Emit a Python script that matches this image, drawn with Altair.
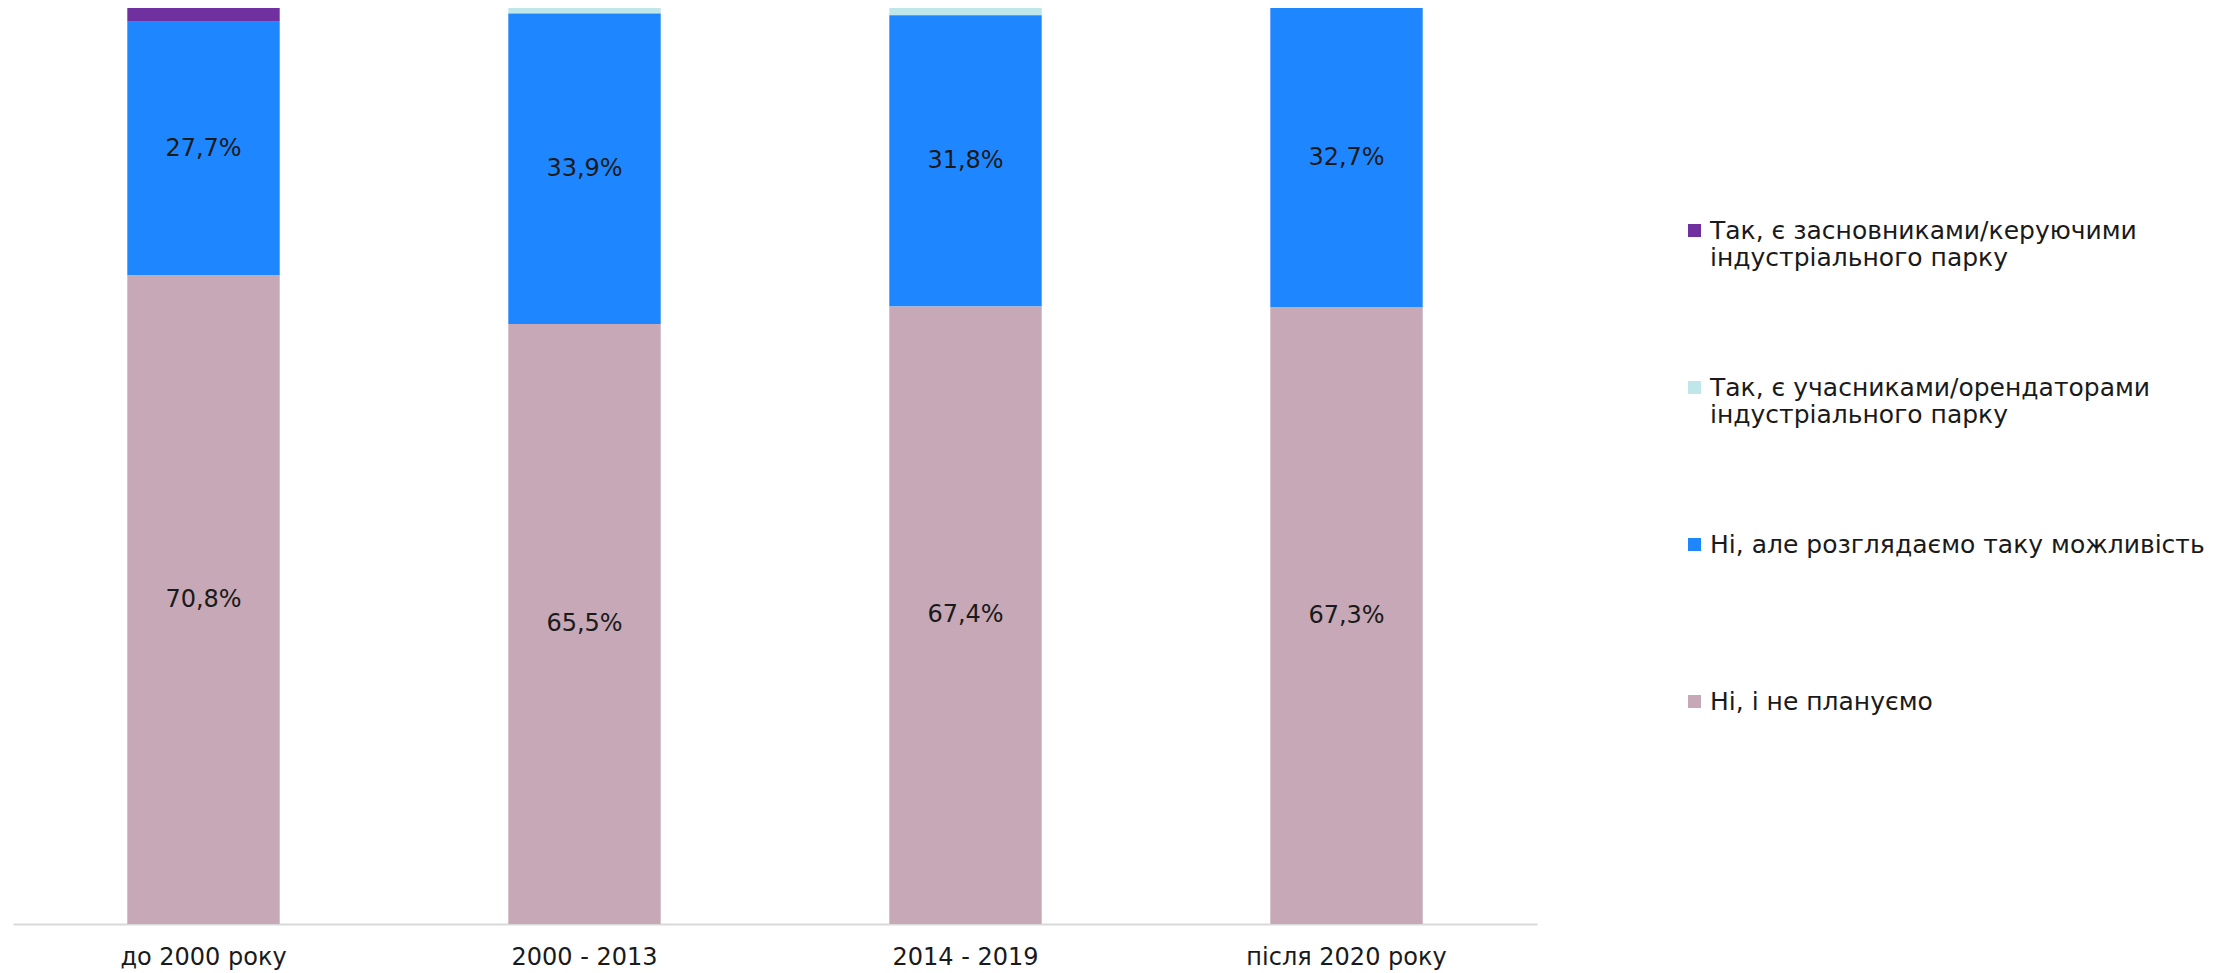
import altair as alt
import pandas as pd

periods = ["до 2000 року", "2000 - 2013", "2014 - 2019", "після 2020 року"]
legend_labels = [
    "Так, є засновниками/керуючими|індустріального парку",
    "Так, є учасниками/орендаторами|індустріального парку",
    "Ні, але розглядаємо таку можливість",
    "Ні, і не плануємо",
]
founders = [1.5, 0.0, 0.0, 0.0]
members = [0.0, 0.6, 0.8, 0.0]
considering = [27.7, 33.9, 31.8, 32.7]
not_planning = [70.8, 65.5, 67.4, 67.3]
colors = ["#7030A0", "#BFE6E8", "#1E87FF", "#C6A8B6"]

rows = []
for i, p in enumerate(periods):
    for s_idx, (s, vals) in enumerate(zip(legend_labels, [founders, members, considering, not_planning])):
        rows.append({"period": p, "series": s, "value": vals[i], "stack_order": 3 - s_idx})
df = pd.DataFrame(rows)

FONT = "DejaVu Sans"

base = alt.Chart(df).transform_stack(
    stack="value", groupby=["period"], as_=["y0", "y1"],
    sort=[alt.SortField("stack_order", order="ascending")],
).transform_calculate(
    mid="(datum.y0 + datum.y1) / 2",
    label="replace(format(datum.value, '.1f'), '.', ',') + '%'",
)

x = alt.X("period:N", sort=periods, title=None,
          scale=alt.Scale(paddingInner=0.6, paddingOuter=0.3),
          axis=alt.Axis(labelAngle=0, domainColor="#d9d9d9", domainWidth=2, ticks=False,
                        labelLimit=400,
                        labelPadding=21, labelFontSize=24, labelFont=FONT, labelColor="#1a1a1a"))

bars = base.mark_bar().encode(
    x=x,
    y=alt.Y("y0:Q", scale=alt.Scale(domain=[0, 100], nice=False), axis=None),
    y2="y1:Q",
    color=alt.Color("series:N", scale=alt.Scale(domain=legend_labels, range=colors),
                    legend=alt.Legend(
                        title=None, orient="none", legendX=1669, legendY=210,
                        symbolType="square", symbolSize=169, symbolStrokeWidth=0,
                        labelFontSize=25, labelFont=FONT, labelColor="#1a1a1a",
                        labelLimit=700, labelOffset=3, labelBaseline="middle",
                        labelExpr="split(datum.label, '|')",
                        rowPadding=104, gridAlign="all", symbolOffset=0)),
)

texts = base.transform_filter("datum.value > 5").mark_text(
    fontSize=24, font=FONT, color="#1a1a1a"
).encode(
    x=alt.X("period:N", sort=periods),
    y=alt.Y("mid:Q"),
    text="label:N",
)

chart = alt.layer(bars, texts).properties(
    width=1524, height=916,
    padding={"top": 0, "left": 5, "right": 5, "bottom": 5},
).configure_view(stroke=None)

chart.save("out.html", embed_options={"renderer": "svg", "actions": False})
